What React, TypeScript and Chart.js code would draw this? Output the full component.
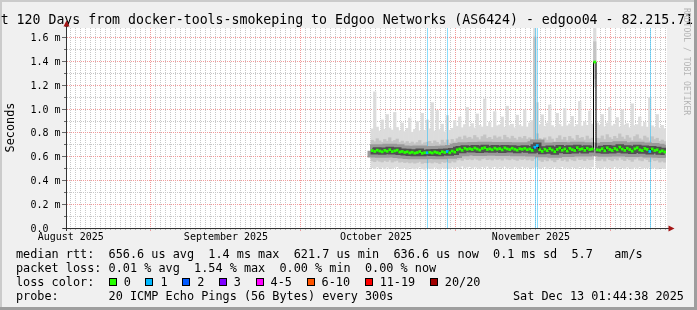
import { useEffect, useRef } from 'react';
import { Chart, registerables } from 'chart.js';

Chart.register(...registerables);

// ---------- text ----------
const titleText = 't 120 Days from docker-tools-smokeping to Edgoo Networks (AS6424) - edgoo04 - 82.215.71';
const yAxisTitle = 'Seconds';
const watermarkText = 'RRDTOOL / TOBI OETIKER';
const legendMedian = 'median rtt:  656.6 us avg  1.4 ms max  621.7 us min  636.6 us now  0.1 ms sd  5.7   am/s';
const legendLoss = 'packet loss: 0.01 % avg  1.54 % max  0.00 % min  0.00 % now';
const legendColorTitle = 'loss color:';
const legendProbe = 'probe:       20 ICMP Echo Pings (56 Bytes) every 300s';
const legendDate = 'Sat Dec 13 01:44:38 2025';

// ---------- axes ----------
const yMaxMs = 1.675;
const yMajorTicks = [0, 0.2, 0.4, 0.6, 0.8, 1.0, 1.2, 1.4, 1.6];
const yTickLabels = ['0.0', '0.2 m', '0.4 m', '0.6 m', '0.8 m', '1.0 m', '1.2 m', '1.4 m', '1.6 m'];
const yMinorTicks = [0.1, 0.3, 0.5, 0.7, 0.9, 1.1, 1.3, 1.5];
const xSpanDays = 120;
const dayGridFirst = 0.8; // first daily grid line, days from left edge
const monthStartDays = [16.8, 46.8, 77.8, 108.8];
const monthLabels = ['August 2025', 'September 2025', 'October 2025', 'November 2025'];
const monthLabelDays = [0.95, 32, 62, 93];

// ---------- loss legend ----------
const lossLegendLabels = ['0', '1', '2', '3', '4-5', '6-10', '11-19', '20/20'];
const lossLegendColors = ['#26ff00', '#00b8ff', '#0059ff', '#7e00ff', '#ff00ff', '#ff5500', '#ff0000', '#a10000'];

// ---------- data (half-day samples, ms) ----------
const sampleStartDay = 61;
const sampleStepDays = 0.5;

const medianMs = [
  0.648, 0.641, 0.652, 0.645, 0.638, 0.650, 0.643, 0.655, 0.640, 0.646,
  0.652, 0.637, 0.641, 0.633, 0.638, 0.629, 0.635, 0.627, 0.632, 0.640,
  0.626, 0.631, 0.630, 0.634, 0.628, 0.637, 0.631, 0.625, 0.639, 0.633,
  0.641, 0.630, 0.644, 0.636, 0.655, 0.662, 0.651, 0.668, 0.659, 0.664,
  0.657, 0.670, 0.661, 0.653, 0.666, 0.672, 0.658, 0.663, 0.655, 0.669,
  0.660, 0.665, 0.654, 0.671, 0.662, 0.657, 0.668, 0.660, 0.652, 0.664,
  0.659, 0.667, 0.656, 0.662, 0.650, 0.676, 0.690, 0.655, 0.642, 0.660,
  0.648, 0.665, 0.653, 0.639, 0.658, 0.670, 0.651, 0.662, 0.645, 0.667,
  0.656, 0.649, 0.672, 0.658, 0.663, 0.650, 0.668, 0.657, 0.661, 1.390,
  0.655, 0.652, 0.664, 0.647, 0.671, 0.658, 0.649, 0.666, 0.655, 0.677,
  0.661, 0.650, 0.668, 0.657, 0.644, 0.663, 0.672, 0.654, 0.648, 0.666,
  0.658, 0.641, 0.662, 0.649, 0.655, 0.638, 0.646, 0.637,
];

const minMs = [
  0.505, 0.498, 0.512, 0.503, 0.508, 0.496, 0.510, 0.502, 0.499, 0.507,
  0.514, 0.501, 0.497, 0.505, 0.493, 0.508, 0.500, 0.495, 0.503, 0.511,
  0.498, 0.492, 0.506, 0.500, 0.496, 0.509, 0.502, 0.494, 0.507, 0.499,
  0.504, 0.497, 0.510, 0.501, 0.512, 0.506, 0.518, 0.503, 0.509, 0.515,
  0.501, 0.511, 0.507, 0.499, 0.513, 0.505, 0.516, 0.502, 0.508, 0.514,
  0.500, 0.510, 0.506, 0.517, 0.503, 0.509, 0.498, 0.512, 0.507, 0.501,
  0.515, 0.504, 0.510, 0.506, 0.503, 0.508, 0.512, 0.500, 0.506, 0.513,
  0.499, 0.509, 0.504, 0.511, 0.497, 0.507, 0.514, 0.502, 0.508, 0.500,
  0.510, 0.505, 0.498, 0.512, 0.503, 0.509, 0.501, 0.507, 0.511, 1.180,
  0.505, 0.506, 0.500, 0.511, 0.503, 0.508, 0.497, 0.513, 0.502, 0.509,
  0.505, 0.499, 0.510, 0.504, 0.496, 0.508, 0.501, 0.512, 0.498, 0.506,
  0.503, 0.509, 0.500, 0.507, 0.495, 0.504, 0.501, 0.498,
];

const loMs = [
  0.562, 0.555, 0.568, 0.559, 0.553, 0.565, 0.557, 0.570, 0.552, 0.560,
  0.566, 0.551, 0.556, 0.548, 0.553, 0.545, 0.551, 0.543, 0.549, 0.557,
  0.541, 0.547, 0.546, 0.550, 0.544, 0.553, 0.548, 0.540, 0.555, 0.549,
  0.557, 0.546, 0.560, 0.552, 0.570, 0.576, 0.566, 0.582, 0.573, 0.578,
  0.571, 0.584, 0.575, 0.567, 0.580, 0.586, 0.572, 0.577, 0.569, 0.583,
  0.574, 0.579, 0.568, 0.585, 0.576, 0.571, 0.582, 0.574, 0.566, 0.578,
  0.573, 0.581, 0.570, 0.576, 0.565, 0.580, 0.590, 0.568, 0.557, 0.574,
  0.562, 0.579, 0.567, 0.554, 0.572, 0.584, 0.565, 0.576, 0.559, 0.581,
  0.570, 0.563, 0.586, 0.572, 0.577, 0.564, 0.582, 0.571, 0.575, 1.250,
  0.566, 0.566, 0.578, 0.561, 0.585, 0.572, 0.563, 0.580, 0.569, 0.590,
  0.575, 0.564, 0.582, 0.571, 0.558, 0.577, 0.586, 0.568, 0.562, 0.580,
  0.572, 0.555, 0.576, 0.563, 0.569, 0.552, 0.560, 0.551,
];

const hiMs = [
  0.735, 0.722, 0.748, 0.730, 0.718, 0.741, 0.727, 0.756, 0.724, 0.733,
  0.745, 0.716, 0.728, 0.712, 0.724, 0.709, 0.720, 0.705, 0.716, 0.733,
  0.703, 0.714, 0.719, 0.726, 0.708, 0.730, 0.717, 0.702, 0.736, 0.715,
  0.738, 0.711, 0.742, 0.721, 0.748, 0.762, 0.741, 0.771, 0.753, 0.760,
  0.746, 0.775, 0.757, 0.739, 0.766, 0.780, 0.750, 0.759, 0.743, 0.772,
  0.754, 0.763, 0.740, 0.777, 0.758, 0.747, 0.769, 0.752, 0.738, 0.761,
  0.749, 0.768, 0.744, 0.756, 0.742, 1.600, 0.790, 0.750, 0.728, 0.755,
  0.736, 0.764, 0.745, 0.722, 0.752, 0.773, 0.739, 0.760, 0.731, 0.767,
  0.748, 0.735, 0.776, 0.751, 0.758, 0.737, 0.770, 0.746, 0.753, 1.560,
  0.752, 0.749, 0.771, 0.740, 0.782, 0.757, 0.743, 0.768, 0.751, 0.788,
  0.762, 0.744, 0.775, 0.755, 0.733, 0.766, 0.781, 0.748, 0.738, 0.770,
  0.756, 0.729, 0.765, 0.741, 0.752, 0.726, 0.737, 0.724,
];

const maxMs = [
  0.830, 1.140, 0.845, 0.812, 0.905, 0.826, 0.950, 0.838, 0.820, 0.968,
  0.842, 0.815, 0.880, 0.808, 0.835, 0.921, 0.802, 0.826, 0.890, 0.814,
  0.960, 0.818, 0.905, 0.830, 1.050, 0.812, 0.985, 0.824, 0.870, 0.806,
  0.942, 0.819, 0.835, 0.900, 0.852, 0.930, 0.840, 0.866, 1.010, 0.848,
  0.875, 0.838, 0.955, 0.860, 0.846, 1.080, 0.852, 0.884, 0.842, 0.975,
  0.856, 0.864, 0.930, 0.844, 1.020, 0.858, 0.870, 0.840, 0.945, 0.862,
  0.850, 0.990, 0.846, 0.880, 0.900, 1.675, 1.050, 0.865, 0.948, 0.852,
  0.880, 1.030, 0.858, 0.842, 0.960, 0.870, 0.850, 1.000, 0.856, 0.872,
  0.935, 0.848, 0.866, 1.060, 0.854, 0.890, 0.860, 0.980, 0.870, 1.675,
  0.880, 0.862, 0.950, 0.848, 0.880, 1.010, 0.855, 0.870, 0.925, 0.846,
  0.990, 0.862, 0.875, 0.840, 1.040, 0.858, 0.866, 0.930, 0.850, 0.885,
  0.845, 1.090, 0.856, 0.842, 0.950, 0.838, 0.860, 0.832,
];

const lostPings = [
  0, 0, 0, 0, 0, 0, 0, 0, 0, 0,
  0, 0, 0, 0, 0, 0, 0, 0, 0, 0,
  0, 0, 1, 0, 0, 0, 0, 0, 0, 0,
  1, 0, 0, 0, 0, 0, 0, 0, 0, 0,
  0, 0, 0, 0, 0, 0, 0, 0, 0, 0,
  0, 0, 0, 0, 0, 0, 0, 0, 0, 0,
  0, 0, 0, 0, 0, 1, 1, 0, 0, 0,
  0, 0, 0, 0, 0, 0, 0, 0, 0, 0,
  0, 0, 0, 0, 0, 0, 0, 0, 0, 0,
  0, 0, 0, 0, 0, 0, 0, 0, 0, 0,
  0, 0, 0, 0, 0, 0, 0, 0, 0, 0,
  0, 1, 0, 0, 0, 0, 0, 0,
];

// ---------- helpers ----------
const W = 697;
const H = 310;
const MONO = '"DejaVu Sans Mono", monospace';

function lossClass(n: number): number {
  if (n <= 0) return 0;
  if (n === 1) return 1;
  if (n === 2) return 2;
  if (n === 3) return 3;
  if (n <= 5) return 4;
  if (n <= 10) return 5;
  if (n <= 19) return 6;
  return 7;
}

const sampleDays = medianMs.map((_, i) => sampleStartDay + sampleStepDays * (i + 0.5));
const asPoints = (arr: number[]) => arr.map((y, i) => ({ x: sampleDays[i], y }));
const asBand = (lo: number[], hi: number[]) => lo.map((l, i) => ({ x: sampleDays[i], y: [l, hi[i]] }));

const MID_BAND_INDEX = 4;

const framePlugin = {
  id: 'smokepingFrame',
  beforeDraw(chart: any) {
    const { ctx, chartArea: a, scales } = chart;
    const xs = scales.x;
    const ys = scales.y;
    ctx.save();
    // background + 3d frame
    ctx.fillStyle = '#f0f0f0';
    ctx.fillRect(0, 0, W, H);
    ctx.fillStyle = '#cbcbcb';
    ctx.fillRect(0, 0, W, 2);
    ctx.fillRect(0, 0, 2, H);
    ctx.fillStyle = '#9e9e9e';
    ctx.fillRect(0, H - 3, W, 3);
    ctx.fillRect(W - 3, 0, 3, H);
    // plot canvas
    ctx.fillStyle = '#ffffff';
    ctx.fillRect(a.left, a.top, a.right - a.left + 1, a.bottom - a.top);

    const vline = (px: number, y0: number, y1: number) => {
      ctx.beginPath();
      ctx.moveTo(px, y0);
      ctx.lineTo(px, y1);
      ctx.stroke();
    };
    const hline = (py: number, x0: number, x1: number) => {
      ctx.beginPath();
      ctx.moveTo(x0, py);
      ctx.lineTo(x1, py);
      ctx.stroke();
    };

    ctx.lineWidth = 1;
    // minor grid
    ctx.setLineDash([1, 1]);
    ctx.strokeStyle = '#c8c8c8';
    for (let d = dayGridFirst; d < xSpanDays; d += 1) {
      if (monthStartDays.some((m) => Math.abs(m - d) < 0.01)) continue;
      const px = Math.round(xs.getPixelForValue(d)) + 0.5;
      vline(px, a.top, a.bottom);
    }
    yMinorTicks.forEach((v) => {
      const py = Math.round(ys.getPixelForValue(v)) + 0.5;
      hline(py, a.left + 1, a.right + 1);
    });
    // major grid
    ctx.strokeStyle = '#f09a9a';
    monthStartDays.forEach((d) => {
      const px = Math.round(xs.getPixelForValue(d)) + 0.5;
      vline(px, a.top, a.bottom + 3);
    });
    yMajorTicks.forEach((v) => {
      if (v === 0) return;
      const py = Math.round(ys.getPixelForValue(v)) + 0.5;
      hline(py, a.left + 1, a.right + 1);
    });
    ctx.setLineDash([]);

    // tick marks
    ctx.strokeStyle = '#666666';
    yMajorTicks.forEach((v) => {
      const py = Math.round(ys.getPixelForValue(v)) + 0.5;
      hline(py, a.left - 4, a.left);
    });
    yMinorTicks.forEach((v) => {
      const py = Math.round(ys.getPixelForValue(v)) + 0.5;
      hline(py, a.left - 2, a.left);
    });
    ctx.strokeStyle = '#b0b0b0';
    for (let d = dayGridFirst; d < xSpanDays; d += 1) {
      const px = Math.round(xs.getPixelForValue(d)) + 0.5;
      vline(px, a.bottom, a.bottom + 2);
    }

    // y tick labels
    ctx.fillStyle = '#000000';
    ctx.font = `10px ${MONO}`;
    ctx.textAlign = 'left';
    ctx.textBaseline = 'alphabetic';
    yMajorTicks.forEach((v, i) => {
      const py = Math.round(ys.getPixelForValue(v));
      ctx.fillText(yTickLabels[i], 30.5, py + 3.7);
    });
    // x month labels
    ctx.textAlign = 'center';
    monthLabelDays.forEach((d, i) => {
      ctx.fillText(monthLabels[i], xs.getPixelForValue(d), 240);
    });

    // title
    ctx.textAlign = 'left';
    ctx.font = `13.22px ${MONO}`;
    ctx.fillText(titleText, 0.7, 24);

    // vertical axis title
    ctx.save();
    ctx.font = `11.84px ${MONO}`;
    ctx.translate(14, 127.5);
    ctx.rotate(-Math.PI / 2);
    ctx.textAlign = 'center';
    ctx.fillText(yAxisTitle, 0, 0);
    ctx.restore();

    // watermark
    ctx.save();
    ctx.font = `8.1px ${MONO}`;
    ctx.fillStyle = '#b4b4b4';
    ctx.translate(684, 8);
    ctx.rotate(Math.PI / 2);
    ctx.textAlign = 'left';
    ctx.fillText(watermarkText, 0, 0);
    ctx.restore();

    // legend
    ctx.font = `11.84px ${MONO}`;
    ctx.fillStyle = '#000000';
    ctx.textAlign = 'left';
    ctx.fillText(legendMedian, 16, 258);
    ctx.fillText(legendLoss, 16, 272);
    ctx.fillText(legendColorTitle, 16, 286);
    ctx.fillText(legendProbe, 16, 300);
    ctx.fillText(legendDate, 513, 300);

    let bx = 108.7;
    lossLegendLabels.forEach((label, i) => {
      const rx = Math.round(bx);
      ctx.fillStyle = lossLegendColors[i];
      ctx.fillRect(rx, 278, 8, 8);
      ctx.strokeStyle = '#000000';
      ctx.lineWidth = 1;
      ctx.strokeRect(rx + 0.5, 278.5, 7, 7);
      ctx.fillStyle = '#000000';
      const lx = bx + 15;
      ctx.fillText(label, lx, 286);
      bx = lx + ctx.measureText(label).width + 14.6;
    });
    ctx.restore();
  },
  afterDatasetDraw(chart: any, args: any) {
    if (args.index !== MID_BAND_INDEX) return;
    const { ctx, chartArea: a, scales } = chart;
    ctx.save();
    ctx.lineWidth = 1;
    ctx.globalAlpha = 0.45;
    lostPings.forEach((n, i) => {
      if (n <= 0) return;
      const px = Math.round(scales.x.getPixelForValue(sampleDays[i])) + 0.5;
      ctx.strokeStyle = lossLegendColors[lossClass(n)];
      ctx.beginPath();
      ctx.moveTo(px, a.top);
      ctx.lineTo(px, a.bottom);
      ctx.stroke();
    });
    ctx.restore();
  },
  afterDraw(chart: any) {
    const { ctx, chartArea: a } = chart;
    ctx.save();
    ctx.lineWidth = 1;
    ctx.strokeStyle = '#333333';
    const ax = a.left + 0.5;
    const ay = a.bottom + 0.5;
    ctx.beginPath();
    ctx.moveTo(ax, a.bottom + 3);
    ctx.lineTo(ax, a.top - 2);
    ctx.stroke();
    ctx.beginPath();
    ctx.moveTo(a.left - 3, ay);
    ctx.lineTo(a.right + 3, ay);
    ctx.stroke();
    ctx.fillStyle = '#a31515';
    ctx.beginPath();
    ctx.moveTo(ax, a.top - 7.5);
    ctx.lineTo(ax - 3, a.top - 1.5);
    ctx.lineTo(ax + 3, a.top - 1.5);
    ctx.closePath();
    ctx.fill();
    ctx.beginPath();
    ctx.moveTo(a.right + 8.5, ay);
    ctx.lineTo(a.right + 2.5, ay - 3);
    ctx.lineTo(a.right + 2.5, ay + 3);
    ctx.closePath();
    ctx.fill();
    ctx.restore();
  },
};

const hideBigJumps = (ctx: any) =>
  Math.abs(ctx.p1.parsed.y - ctx.p0.parsed.y) > 0.3 ? 'rgba(0,0,0,0)' : undefined;

export default function App() {
  const canvasRef = useRef<HTMLCanvasElement>(null);

  useEffect(() => {
    const canvas = canvasRef.current;
    if (!canvas) return;
    const chart = new Chart(canvas, {
      type: 'bar',
      data: {
        datasets: [
          {
            type: 'line',
            label: 'median',
            data: asPoints(medianMs),
            showLine: false,
            pointStyle: 'line',
            pointRadius: 1.4,
            pointBorderWidth: 2.8,
            pointBorderColor: (c: any) => lossLegendColors[lossClass(lostPings[c.dataIndex] || 0)],
            pointBackgroundColor: (c: any) => lossLegendColors[lossClass(lostPings[c.dataIndex] || 0)],
            order: 1,
          } as any,
          {
            type: 'line',
            label: 'median line',
            data: asPoints(medianMs),
            stepped: 'middle',
            borderColor: '#000000',
            borderWidth: 1,
            pointRadius: 0,
            order: 2,
          } as any,
          {
            type: 'line',
            label: 'core',
            data: asPoints(medianMs),
            stepped: 'middle',
            borderColor: '#505050',
            borderWidth: 6,
            pointRadius: 0,
            segment: { borderColor: hideBigJumps },
            order: 3,
          } as any,
          {
            type: 'line',
            label: 'near core',
            data: asPoints(medianMs),
            stepped: 'middle',
            borderColor: '#9a9a9a',
            borderWidth: 12,
            pointRadius: 0,
            segment: { borderColor: hideBigJumps },
            order: 4,
          } as any,
          {
            type: 'bar',
            label: 'inner smoke',
            data: asBand(loMs, hiMs),
            backgroundColor: '#c4c4c4',
            borderWidth: 0,
            grouped: false,
            barThickness: 2.6,
            order: 5,
          } as any,
          {
            type: 'bar',
            label: 'outer smoke',
            data: asBand(minMs, maxMs),
            backgroundColor: '#dcdcdc',
            borderWidth: 0,
            grouped: false,
            barThickness: 2.6,
            order: 6,
          } as any,
        ],
      },
      options: {
        responsive: false,
        animation: false,
        devicePixelRatio: 1,
        events: [],
        layout: { padding: { left: 66, right: 31, top: 28, bottom: 82 } },
        plugins: { legend: { display: false }, tooltip: { enabled: false }, title: { display: false } },
        scales: {
          x: { type: 'linear', min: 0, max: xSpanDays, offset: false, display: false },
          y: { type: 'linear', min: 0, max: yMaxMs, display: false },
        },
      },
      plugins: [framePlugin],
    } as any);
    return () => chart.destroy();
  }, []);

  return (
    <div style={{ position: 'fixed', left: 0, top: 0, width: W, height: H }}>
      <canvas ref={canvasRef} width={W} height={H} style={{ display: 'block', width: W, height: H }} />
    </div>
  );
}
